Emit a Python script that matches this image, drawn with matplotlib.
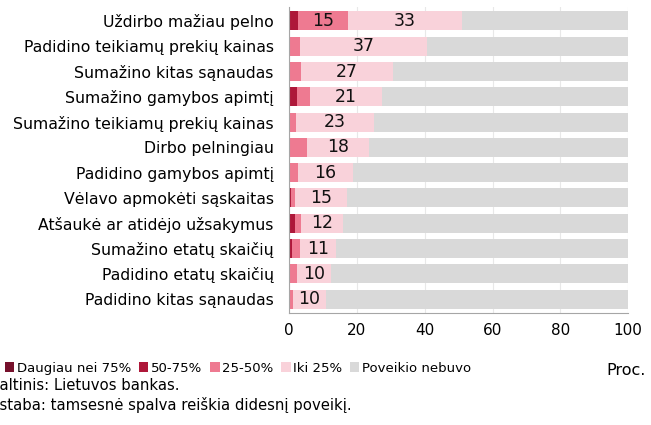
import matplotlib.pyplot as plt
import numpy as np

categories = ["Uždirbo mažiau pelno", "Padidino teikiamų prekių kainas",
              "Sumažino kitas sąnaudas", "Sumažino gamybos apimtį",
              "Sumažino teikiamų prekių kainas", "Dirbo pelningiau",
              "Padidino gamybos apimtį", "Vėlavo apmokėti sąskaitas",
              "Atšaukė ar atidėjo užsakymus", "Sumažino etatų skaičių",
              "Padidino etatų skaičių", "Padidino kitas sąnaudas"]

over75 = [0.3, 0.2, 0.4, 0.2, 0.2, 0.3, 0.2, 0.2, 0.3, 0.2, 0.1, 0.1]
p50_75 = [2.2, 0.0, 0.0, 2.1, 0.0, 0.0, 0.0, 0.4, 1.4, 0.7, 0.0, 0.0]
p25_50 = [15.0, 3.0, 3.2, 4.0, 1.8, 5.1, 2.3, 1.1, 1.8, 2.3, 2.1, 1.1]
upto25 = [33.4, 37.4, 27.0, 21.0, 23.1, 18.2, 16.4, 15.4, 12.3, 10.7, 10.3, 9.6]

series_names = ["Daugiau nei 75%", "50-75%", "25-50%", "Iki 25%", "Poveikio nebuvo"]
colors = ["#76102b", "#ae1739", "#ee7a91", "#f9d2da", "#d9d9d9"]

none = [100 - a - b - c - d for a, b, c, d in zip(over75, p50_75, p25_50, upto25)]
data = [over75, p50_75, p25_50, upto25, none]

fig = plt.figure(figsize=(6.51, 4.25), dpi=100)
ax = fig.add_axes([0.444, 0.2635, 0.521, 0.72])

y = np.arange(len(categories))
left = np.zeros(len(categories))
handles = []
for i, (vals, name, col) in enumerate(zip(data, series_names, colors)):
    vals = np.array(vals)
    bars = ax.barh(y, vals, left=left, height=0.75, color=col, label=name, zorder=2)
    handles.append(bars)
    # value labels only on the bigger pink segments
    if i in (2, 3):
        for yy, l, v in zip(y, left, vals):
            if v >= 9:
                ax.text(l + v / 2, yy, f"{v:.0f}", ha="center", va="center",
                        fontsize=12.5, color="#111111", zorder=3)
    left = left + vals

ax.set_xlim(0, 100)
ax.set_ylim(len(categories) - 0.45, -0.55)
ax.set_yticks(y)
ax.set_yticklabels(categories, fontsize=11.3)
ax.set_xticks([0, 20, 40, 60, 80, 100])
ax.tick_params(axis="x", labelsize=11, length=0, pad=7)
ax.tick_params(axis="y", length=0, pad=11)
ax.grid(axis="x", color="#e8e8e8", linewidth=0.8, zorder=0)
for s in ["top", "right"]:
    ax.spines[s].set_visible(False)
ax.spines["left"].set_color("#a6a6a6")
ax.spines["bottom"].set_color("#a6a6a6")

fig.legend(handles=handles, loc="center left", bbox_to_anchor=(0.008, 0.134), ncol=5,
           frameon=False, fontsize=9.5, handlelength=0.7, handleheight=0.7,
           handletextpad=0.2, columnspacing=0.6, borderaxespad=0, borderpad=0)
fig.text(0.932, 0.128, "Proc.", fontsize=11.5, va="center")

fig.text(-0.016, 0.092, "Šaltinis: Lietuvos bankas.", fontsize=10.7, va="center")
fig.text(-0.027, 0.046, "Pastaba: tamsesnė spalva reiškia didesnį poveikį.", fontsize=10.7, va="center")

fig.savefig("out.png", dpi=100)
